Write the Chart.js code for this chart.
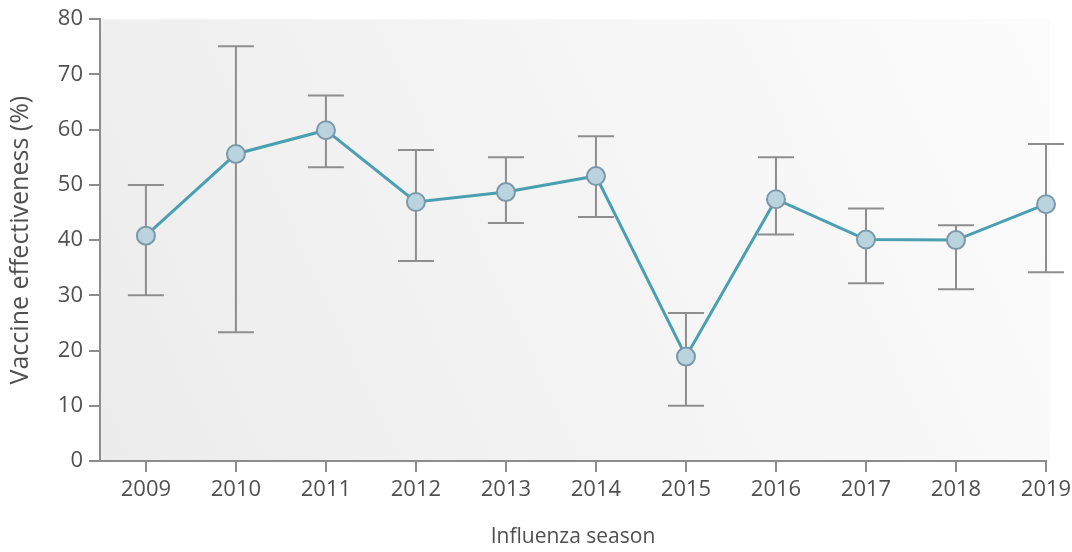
<!DOCTYPE html>
<html lang="en">
<head>
    <meta charset="UTF-8">
    <title>Vaccine effectiveness</title>
    <script src="https://cdn.jsdelivr.net/npm/chart.js"></script>
    <style>
        html, body { margin: 0; padding: 0; background: #fff; }
        .wrap { width: 1072px; height: 552px; }
    </style>
</head>
<body>
    <div class="wrap"><canvas id="veChart"></canvas></div>

    <script>
        // values
        const seasons = [2009, 2010, 2011, 2012, 2013, 2014, 2015, 2016, 2017, 2018, 2019];
        const effectiveness = [40.8, 55.6, 59.9, 46.9, 48.7, 51.6, 18.9, 47.4, 40.1, 40.0, 46.5];
        const upperCI = [50.0, 75.1, 66.2, 56.3, 55.0, 58.8, 26.8, 55.0, 45.7, 42.7, 57.4];
        const lowerCI = [30.0, 23.3, 53.2, 36.2, 43.1, 44.2, 10.0, 41.0, 32.2, 31.1, 34.2];
        const yTicks = [0, 10, 20, 30, 40, 50, 60, 70, 80];

        const textColor = '#505050';
        const axisColor = '#8c8c8c';
        const fontFamily = "'Open Sans', 'Noto Sans', sans-serif";

        const plotBackground = {
            id: 'plotBackground',
            beforeDraw(chart) {
                const { ctx, chartArea: a } = chart;
                const g = ctx.createLinearGradient(a.left, a.bottom, a.right, a.top);
                g.addColorStop(0, '#ececec');
                g.addColorStop(0.5, '#f4f4f4');
                g.addColorStop(1, '#fcfcfc');
                ctx.save();
                ctx.fillStyle = g;
                ctx.fillRect(a.left, a.top, a.right - a.left + 4, a.bottom - a.top);
                ctx.restore();
            }
        };

        const errorBars = {
            id: 'errorBars',
            beforeDatasetsDraw(chart) {
                const { ctx, scales: { x, y } } = chart;
                ctx.save();
                ctx.strokeStyle = '#8e8e8e';
                ctx.lineWidth = 2;
                seasons.forEach((s, i) => {
                    const px = x.getPixelForValue(s);
                    const top = y.getPixelForValue(upperCI[i]);
                    const bot = y.getPixelForValue(lowerCI[i]);
                    ctx.beginPath();
                    ctx.moveTo(px, top); ctx.lineTo(px, bot);
                    ctx.moveTo(px - 18, top); ctx.lineTo(px + 18, top);
                    ctx.moveTo(px - 18, bot); ctx.lineTo(px + 18, bot);
                    ctx.stroke();
                });
                ctx.restore();
            }
        };

        new Chart(document.getElementById('veChart'), {
            type: 'line',
            data: {
                datasets: [{
                    data: seasons.map((s, i) => ({ x: s, y: effectiveness[i] })),
                    borderColor: '#4a9fb1',
                    borderWidth: 3,
                    pointRadius: 9,
                    pointBackgroundColor: '#b9d3df',
                    pointBorderColor: '#7c98a8',
                    pointBorderWidth: 2,
                    clip: false
                }]
            },
            options: {
                responsive: true,
                maintainAspectRatio: false,
                animation: false,
                layout: { padding: { top: 19, right: 26, left: 0, bottom: 0 } },
                plugins: { legend: { display: false }, tooltip: { enabled: false } },
                scales: {
                    x: {
                        type: 'linear',
                        min: 2008.49,
                        max: 2019,
                        afterBuildTicks: axis => { axis.ticks = seasons.map(v => ({ value: v })); },
                        afterFit: scale => {
                            scale.height = 91;
                            scale.paddingLeft = 0;
                            scale.paddingRight = 0;
                        },
                        border: { color: axisColor, width: 2 },
                        grid: { drawOnChartArea: false, tickLength: 11, color: axisColor, lineWidth: 2 },
                        ticks: { color: textColor, padding: 5, font: { family: fontFamily, size: 22 },
                                 callback: v => String(v) },
                        title: { display: true, text: 'Influenza season', color: textColor,
                                 font: { family: fontFamily, size: 21 }, padding: { top: 10, bottom: 2 } }
                    },
                    y: {
                        min: 0,
                        max: 80,
                        afterBuildTicks: axis => { axis.ticks = yTicks.map(v => ({ value: v })); },
                        afterFit: scale => { scale.width = 100; },
                        border: { color: axisColor, width: 2 },
                        grid: { drawOnChartArea: false, tickLength: 11, color: axisColor, lineWidth: 2 },
                        ticks: { color: textColor, padding: 6, font: { family: fontFamily, size: 22 } },
                        title: { display: true, text: 'Vaccine effectiveness (%)', color: textColor,
                                 font: { family: fontFamily, size: 25 }, padding: { top: 6, bottom: 0 } }
                    }
                }
            },
            plugins: [plotBackground, errorBars]
        });
    </script>
</body>
</html>
